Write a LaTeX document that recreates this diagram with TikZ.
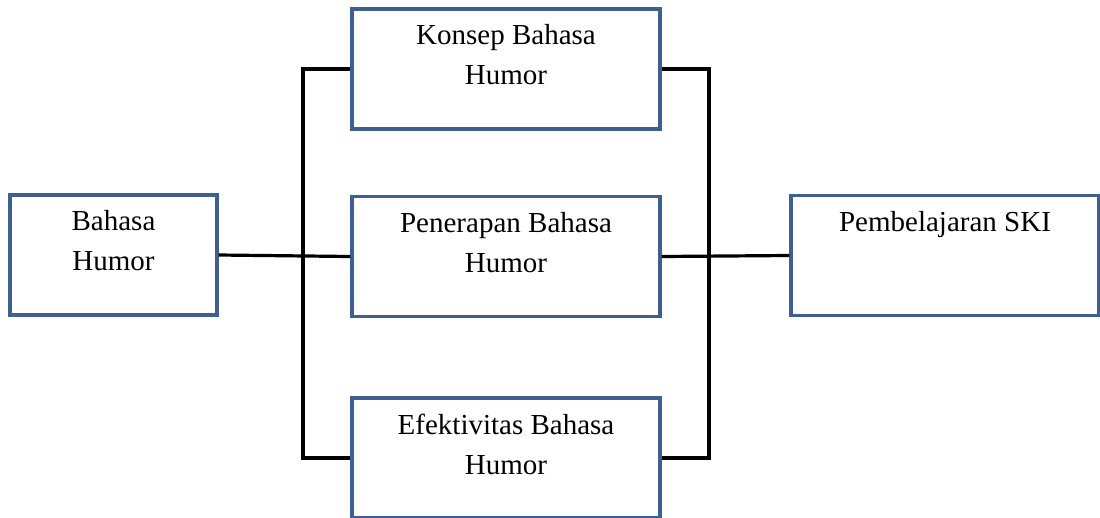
\documentclass[tikz,border=0pt]{standalone}
\usepackage{fontspec}
\setmainfont{Liberation Serif}
\usetikzlibrary{positioning}
\definecolor{boxblue}{RGB}{62,96,145}
\tikzset{
  box/.style={draw=boxblue, line width=3.2pt, minimum width=308pt, minimum height=120pt, inner sep=0pt},
  boxtext/.style={align=center, inner sep=0pt, font=\fontsize{29}{40}\selectfont},
  link/.style={draw=black, line width=3.2pt}
}
\begin{document}
\begin{tikzpicture}[x=1pt,y=-1pt]
        \clip (0,0) rectangle (1100,517);

        \node[box, minimum width=207pt] (bahasa) at (113.5,255) {};
        \node[box] (konsep) at (506,69) {};
        \node[box] (penerapan) at (506,256.5) {};
        \node[box] (efektivitas) at (506,458) {};
        \node[box] (ski) at (945,255.5) {};

        \node[boxtext, below=17pt of bahasa.north] (tbahasa) {Bahasa\\Humor};
        \node[boxtext, below=17pt of konsep.north] (tkonsep) {Konsep Bahasa\\Humor};
        \node[boxtext, below=17pt of penerapan.north] (tpenerapan) {Penerapan Bahasa\\Humor};
        \node[boxtext, below=17pt of efektivitas.north] (tefektivitas) {Efektivitas Bahasa\\Humor};
        \node[boxtext, below=17pt of ski.north] (tski) {Pembelajaran SKI};

        \coordinate (spineL) at (303,458);
        \coordinate (spineR) at (709,458);

        \draw[link] (bahasa.east) -- (penerapan.west);
        \draw[link] (penerapan.east) -- (ski.west);
        \draw[link] (konsep.west) -| (spineL) -- (efektivitas.west);
        \draw[link] (konsep.east) -| (spineR) -- (efektivitas.east);
    \end{tikzpicture}
\end{document}
